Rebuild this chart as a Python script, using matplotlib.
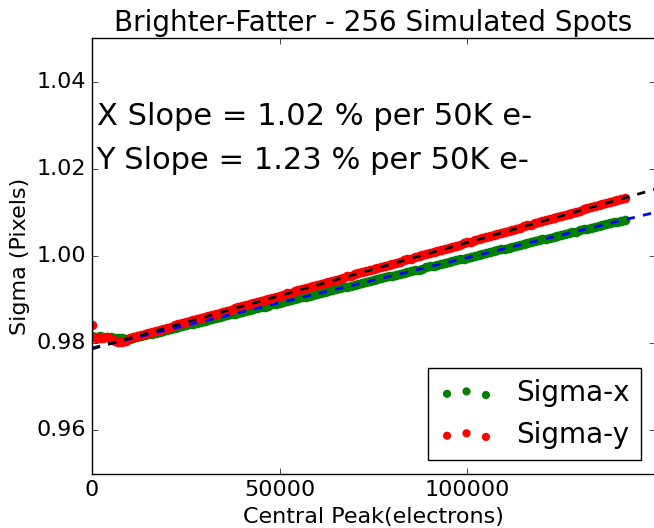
import matplotlib
matplotlib.use('Agg')
import matplotlib.pyplot as plt
import matplotlib.ticker as mticker
import numpy as np

plt.style.use('classic')

# central peak of each simulated point, in thousands of electrons
peak_k = [0, 1, 2, 3, 4, 5, 6, 7, 8, 9,
          10, 11, 12, 13, 14, 15, 16, 17, 18, 19,
          20, 21, 22, 23, 24, 25, 26, 27, 28, 29,
          30, 31, 32, 33, 34, 35, 36, 37, 38, 39,
          40, 41, 42, 43, 44, 45, 46, 47, 48, 49,
          50, 51, 52, 53, 54, 55, 56, 57, 58, 59,
          60, 61, 62, 63, 64, 65, 66, 67, 68, 69,
          70, 71, 72, 73, 74, 75, 76, 77, 78, 79,
          80, 81, 82, 83, 84, 85, 86, 87, 88, 89,
          90, 91, 92, 93, 94, 95, 96, 97, 98, 99,
          100, 101, 102, 103, 104, 105, 106, 107, 108, 109,
          110, 111, 112, 113, 114, 115, 116, 117, 118, 119,
          120, 121, 122, 123, 124, 125, 126, 127, 128, 129,
          130, 131, 132, 133, 134, 135, 136, 137, 138, 139,
          140, 141, 142]

sigma_x = [0.9816, 0.9815, 0.9816, 0.9815, 0.9815, 0.9814, 0.9812, 0.9812, 0.9811, 0.9810,
           0.9810, 0.9812, 0.9814, 0.9816, 0.9818, 0.9820, 0.9822, 0.9824, 0.9826, 0.9828,
           0.9831, 0.9833, 0.9835, 0.9837, 0.9839, 0.9841, 0.9843, 0.9845, 0.9847, 0.9849,
           0.9851, 0.9853, 0.9855, 0.9857, 0.9860, 0.9862, 0.9864, 0.9866, 0.9868, 0.9870,
           0.9872, 0.9874, 0.9876, 0.9878, 0.9880, 0.9882, 0.9884, 0.9886, 0.9889, 0.9891,
           0.9893, 0.9895, 0.9897, 0.9899, 0.9901, 0.9903, 0.9905, 0.9907, 0.9909, 0.9911,
           0.9913, 0.9916, 0.9918, 0.9920, 0.9922, 0.9924, 0.9926, 0.9928, 0.9930, 0.9932,
           0.9934, 0.9936, 0.9938, 0.9940, 0.9942, 0.9945, 0.9947, 0.9949, 0.9951, 0.9953,
           0.9955, 0.9957, 0.9959, 0.9961, 0.9963, 0.9965, 0.9967, 0.9969, 0.9971, 0.9974,
           0.9976, 0.9978, 0.9980, 0.9982, 0.9984, 0.9986, 0.9988, 0.9990, 0.9992, 0.9994,
           0.9996, 0.9998, 1.0000, 1.0003, 1.0005, 1.0007, 1.0009, 1.0011, 1.0013, 1.0015,
           1.0017, 1.0019, 1.0021, 1.0023, 1.0025, 1.0027, 1.0029, 1.0032, 1.0034, 1.0036,
           1.0038, 1.0040, 1.0042, 1.0044, 1.0046, 1.0048, 1.0050, 1.0052, 1.0054, 1.0056,
           1.0059, 1.0061, 1.0063, 1.0065, 1.0067, 1.0069, 1.0071, 1.0073, 1.0075, 1.0077,
           1.0079, 1.0081, 1.0083]

sigma_y = [0.9842, 0.9812, 0.9812, 0.9813, 0.9814, 0.9810, 0.9806, 0.9803, 0.9802, 0.9806,
           0.9811, 0.9814, 0.9816, 0.9819, 0.9821, 0.9824, 0.9826, 0.9828, 0.9831, 0.9833,
           0.9836, 0.9838, 0.9841, 0.9843, 0.9846, 0.9848, 0.9850, 0.9853, 0.9855, 0.9858,
           0.9860, 0.9863, 0.9865, 0.9868, 0.9870, 0.9872, 0.9875, 0.9877, 0.9880, 0.9882,
           0.9885, 0.9887, 0.9890, 0.9892, 0.9894, 0.9897, 0.9899, 0.9902, 0.9904, 0.9907,
           0.9909, 0.9911, 0.9914, 0.9916, 0.9919, 0.9921, 0.9924, 0.9926, 0.9929, 0.9931,
           0.9933, 0.9936, 0.9938, 0.9941, 0.9943, 0.9946, 0.9948, 0.9950, 0.9953, 0.9955,
           0.9958, 0.9960, 0.9963, 0.9965, 0.9968, 0.9970, 0.9972, 0.9975, 0.9977, 0.9980,
           0.9982, 0.9985, 0.9987, 0.9990, 0.9992, 0.9994, 0.9997, 0.9999, 1.0002, 1.0004,
           1.0007, 1.0009, 1.0012, 1.0014, 1.0016, 1.0019, 1.0021, 1.0024, 1.0026, 1.0029,
           1.0031, 1.0033, 1.0036, 1.0038, 1.0041, 1.0043, 1.0046, 1.0048, 1.0051, 1.0053,
           1.0055, 1.0058, 1.0060, 1.0063, 1.0065, 1.0068, 1.0070, 1.0072, 1.0075, 1.0077,
           1.0080, 1.0082, 1.0085, 1.0087, 1.0090, 1.0092, 1.0094, 1.0097, 1.0099, 1.0102,
           1.0104, 1.0107, 1.0109, 1.0112, 1.0114, 1.0116, 1.0119, 1.0121, 1.0124, 1.0126,
           1.0129, 1.0131, 1.0134]

x_slope_text = "X Slope = 1.02 % per 50K e-"
y_slope_text = "Y Slope = 1.23 % per 50K e-"

fig = plt.figure(figsize=(6.54, 5.28), dpi=100, facecolor='white')
ax = fig.add_axes([92/654, 1-474/528, (655-92)/654, (474-38)/528])

peak = np.array(peak_k) * 1000.0
fit_mask = peak >= 10000  # skip the low flux points for the fit
px = np.polyfit(peak[fit_mask], np.array(sigma_x)[fit_mask], 1)
py = np.polyfit(peak[fit_mask], np.array(sigma_y)[fit_mask], 1)

ax.scatter(peak, sigma_x, color='green', s=48, lw=0, label='Sigma-x')
ax.scatter(peak, sigma_y, color='red', s=48, lw=0, label='Sigma-y')

xplot = np.linspace(0, 150000, 100)
ax.plot(xplot, np.polyval(px, xplot), color='blue', ls='--', lw=2)
ax.plot(xplot, np.polyval(py, xplot), color='black', ls='--', lw=2)

ax.set_xlim(0, 150000)
ax.set_ylim(0.95, 1.05)
ax.set_xticks([0, 50000, 100000])
ax.set_yticks([0.96, 0.98, 1.00, 1.02, 1.04])
ax.yaxis.set_major_formatter(mticker.FormatStrFormatter('%.2f'))
ax.tick_params(labelsize=16)

ax.set_title("Brighter-Fatter - 256 Simulated Spots", fontsize=20)
ax.set_xlabel("Central Peak(electrons)", fontsize=16)
ax.set_ylabel("Sigma (Pixels)", fontsize=16)

ax.text(1200, 1.03, x_slope_text, fontsize=22)
ax.text(1200, 1.02, y_slope_text, fontsize=22)

ax.legend(loc='lower right', fontsize=20, scatterpoints=3, markerscale=0.85)

fig.savefig('out.png', dpi=100, facecolor='white')
